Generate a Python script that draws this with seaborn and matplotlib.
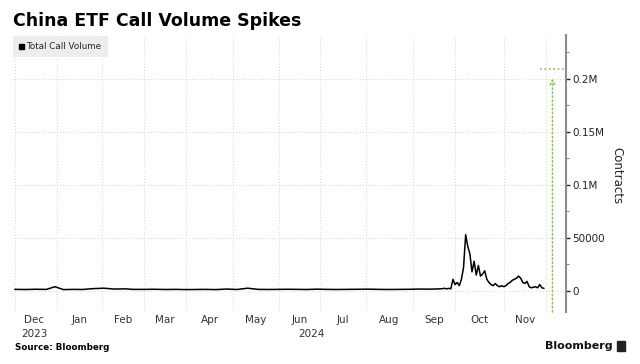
import numpy as np
import pandas as pd
import matplotlib
matplotlib.use("Agg")
import matplotlib.pyplot as plt
import seaborn as sns
from matplotlib.lines import Line2D
from matplotlib.patches import Rectangle
from matplotlib.ticker import FixedLocator, MultipleLocator, FuncFormatter

# ---------------- data ----------------
TITLE = "China ETF Call Volume Spikes"
SERIES_NAME = "Total Call Volume"
Y_LABEL = "Contracts"
SOURCE = "Source: Bloomberg"

# US market holidays (axis is in trading days, like the Bloomberg chart)
HOLIDAYS = ["2023-12-25", "2024-01-01", "2024-01-15", "2024-02-19", "2024-03-29",
            "2024-05-27", "2024-06-19", "2024-07-04", "2024-09-02", "2024-11-28",
            "2024-12-25"]

# weekly readings (Fridays) for the quiet period Dec 2023 - Sep 20 2024
quiet_dates = pd.date_range("2023-12-01", "2024-09-20", freq="W-FRI")
quiet_values = [1500, 1400, 1600, 1500, 4000,
                1300, 1500, 1400, 2200,
                2600, 1800, 2000, 1500,
                1500, 1600, 1400, 1500, 1300,
                1400, 1500, 1300, 1800,
                1400, 2600, 1500, 1400, 1500,
                1600, 1500, 1400, 1700,
                1500, 1400, 1500, 1600,
                1700, 1500, 1400, 1500, 1600,
                1800, 1700, 2000]

# daily readings Sep 23 - Nov 29 2024 (trading days)
active_dates = pd.bdate_range("2024-09-23", "2024-11-29", freq="C", holidays=HOLIDAYS)
active_values = [2200, 2500, 2000, 2500, 2000,
                 11000, 6000, 8000, 5000, 11000,
                 22000, 53000, 42000, 35000, 18000,
                 28000, 15000, 24000, 14000, 16000,
                 19000, 11000, 8000, 6000, 5000,
                 7000, 5000, 4000, 5000, 4000,
                 5000, 7000, 8000, 10000, 11000,
                 12000, 14000, 12000, 8000, 7000,
                 9000, 4000, 3000, 3500, 4000,
                 3000, 6000, 3000, 2500]

MONTH_STARTS = ["2023-12-01", "2024-01-02", "2024-02-01", "2024-03-01", "2024-04-01",
                "2024-05-01", "2024-06-03", "2024-07-01", "2024-08-01", "2024-09-03",
                "2024-10-01", "2024-11-01", "2024-12-02"]
MONTH_LABELS = ["Dec", "Jan", "Feb", "Mar", "Apr", "May", "Jun", "Jul", "Aug",
                "Sep", "Oct", "Nov"]
YEAR_LABELS = ["2023", "2024"]

Y_TICKS = [0, 50000, 100000, 150000, 200000]
Y_TICK_LABELS = ["0", "50000", "0.1M", "0.15M", "0.2M"]

# green off-scale marker
MARK_DATE = "2024-12-05"
MARK_ARROW_TOP = 200000
MARK_LEVEL = 209000

# ---------------- helpers ----------------
START = "2023-12-01"


def tpos(d):
    d = np.datetime64(pd.Timestamp(d).date())
    return int(np.busday_count(np.datetime64(START), d, holidays=HOLIDAYS))


dates = list(quiet_dates) + list(active_dates)
values = list(quiet_values) + list(active_values)
df = pd.DataFrame({"date": dates, "volume": values})
df["pos"] = [tpos(d) for d in df["date"]]

month_pos = [tpos(d) for d in MONTH_STARTS]
mark_pos = tpos(MARK_DATE)

XMIN = -1.3
XMAX = 260.4
YMIN, YMAX = -19800, 241000

# ---------------- drawing ----------------
sns.set_theme(style="white")
plt.rcParams["font.family"] = ["DejaVu Sans"]

fig = plt.figure(figsize=(6.4, 3.64), dpi=100)
ax = fig.add_axes([12 / 640, 1 - 312 / 364, (566 - 12) / 640, (312 - 35) / 364])

sns.lineplot(data=df, x="pos", y="volume", ax=ax, color="black", linewidth=1.1,
             legend=False)

ax.set_xlim(XMIN, XMAX)
ax.set_ylim(YMIN, YMAX)

# month gridlines (minor) and centered month labels (major)
ax.set_xticks(month_pos, minor=True)
bounds = [XMIN] + month_pos[1:]
centers = [(bounds[i] + bounds[i + 1]) / 2 for i in range(len(MONTH_LABELS))]
ax.set_xticks(centers)
ax.set_xticklabels(MONTH_LABELS)
ax.tick_params(axis="x", which="both", length=0, pad=2.5, labelsize=7.5,
               colors="#333333")
ax.grid(axis="x", which="minor", color="#dcdcdc", linestyle=":", linewidth=0.8)
ax.grid(axis="x", which="major", visible=False)

# year labels
year_x = [centers[0], (month_pos[1] + XMAX) / 2]
for yx, lab in zip(year_x, YEAR_LABELS):
    ax.text(yx, -0.078, lab, transform=ax.get_xaxis_transform(), ha="center",
            va="center", fontsize=7.5, color="#333333")

# y axis on the right
ax.yaxis.tick_right()
ax.yaxis.set_major_locator(FixedLocator(Y_TICKS))
ax.yaxis.set_major_formatter(FuncFormatter(lambda v, p: Y_TICK_LABELS[Y_TICKS.index(int(round(v)))]
                                           if int(round(v)) in Y_TICKS else ""))
ax.yaxis.set_minor_locator(MultipleLocator(25000))
ax.tick_params(axis="y", which="major", direction="out", length=3, width=1,
               color="#222222", labelsize=7.5, pad=1.5, labelcolor="#222222")
ax.tick_params(axis="y", which="minor", direction="out", length=2, width=0.8,
               color="#888888", right=True, left=False)
ax.grid(axis="y", which="major", color="#dcdcdc", linestyle=":", linewidth=0.8)
ax.set_xlabel("")
ax.set_ylabel("")

for s in ["top", "left", "bottom"]:
    ax.spines[s].set_visible(False)
ax.spines["right"].set_color("#8c8c8c")
ax.spines["right"].set_linewidth(1.5)

# green off-scale marker
green = "#86cf3c"
ax.annotate("", xy=(mark_pos, MARK_ARROW_TOP), xytext=(mark_pos, YMIN),
            arrowprops=dict(arrowstyle="->", color=green, linestyle=":", lw=1.1,
                            shrinkA=0, shrinkB=0, mutation_scale=8))
ax.hlines(MARK_LEVEL, mark_pos - 6, XMAX, color=green, linestyle=":", linewidth=1.2)

# legend
handle = Line2D([], [], marker="s", color="black", linestyle="none", markersize=3.6)
leg = ax.legend([handle], [SERIES_NAME], loc="upper left", bbox_to_anchor=(0.0, 1.0),
                frameon=True, fancybox=False, facecolor="#ededed", edgecolor="none",
                fontsize=6.3, handlelength=0.5, handletextpad=0.35, borderpad=0.7,
                borderaxespad=0.1, framealpha=1)

# texts
fig.text(13 / 640, 1 - 21 / 364, TITLE, fontsize=12.5, fontweight="bold",
         ha="left", va="center", color="black")
fig.text(617 / 640, 1 - 176 / 364, Y_LABEL, rotation=270, fontsize=8.5,
         ha="center", va="center", color="#222222")
fig.text(15 / 640, 1 - 348 / 364, SOURCE, fontsize=6.3, fontweight="bold",
         ha="left", va="center", color="black")
fig.text(613 / 640, 1 - 346 / 364, "Bloomberg", fontsize=8, fontweight="bold",
         ha="right", va="center", color="#111111")
fig.patches.append(Rectangle((617 / 640, 1 - 351 / 364), 8 / 640, 10 / 364,
                             transform=fig.transFigure, color="#222222"))

fig.savefig("out.png", dpi=100)
